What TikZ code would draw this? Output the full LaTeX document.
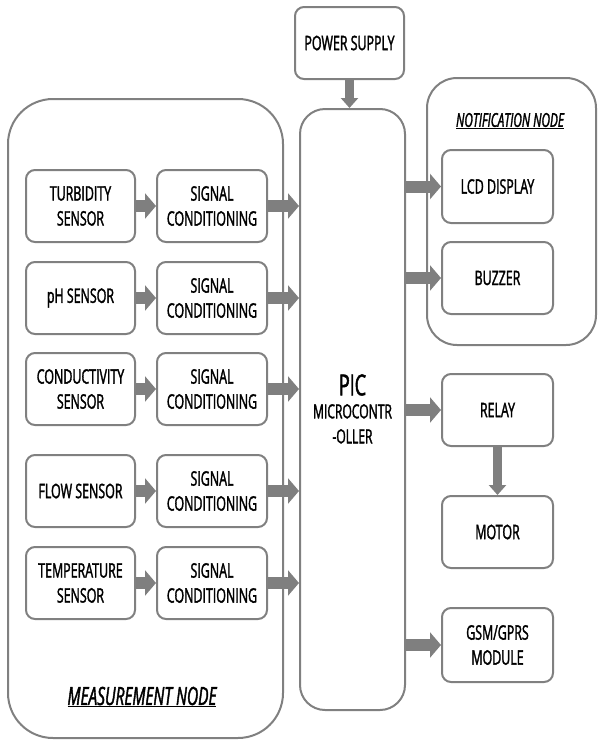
\documentclass[tikz,border=0pt]{standalone}
\usepackage{fontspec}
\setmainfont{Open Sans}[FakeStretch=0.62, FakeBold=1.6]
\usetikzlibrary{arrows.meta}
\definecolor{bordergray}{HTML}{808080}
\definecolor{arrowgray}{HTML}{7F7F7F}
\tikzset{
  blockbox/.style={draw=bordergray, line width=2pt, rounded corners=9pt, fill=white,
    minimum width=109pt, minimum height=72pt, align=center,
    font=\fontsize{20}{25}\selectfont, inner sep=0pt},
  groupbox/.style={draw=bordergray, line width=2pt, inner sep=0pt},
  fatarrow/.style={draw=arrowgray, line width=12pt, -{Triangle[length=11pt,width=25pt]}},
  slimarrow/.style={draw=arrowgray, line width=9pt, -{Triangle[length=10pt,width=17pt]}},
  grouplabel/.style={font=\fontsize{#1}{#1}\selectfont\itshape, inner sep=0pt}
}
\begin{document}
\begin{tikzpicture}[x=1pt,y=-1pt]
\useasboundingbox (0,0) rectangle (598,742);
% group frames
\node[groupbox, rounded corners=45pt, minimum width=275pt, minimum height=639pt] (meas) at (145.5,418.5) {};
\node[groupbox, rounded corners=30pt, minimum width=169pt, minimum height=267pt] (notif) at (511.5,211.5) {};
\node[grouplabel=25] (measlbl) at (142,697) {\underline{MEASUREMENT NODE}};
\node[grouplabel=19] (notiflbl) at (510,121) {\underline{NOTIFICATION NODE}};
% central blocks
\node[blockbox] (power) at (349.5,43) {POWER SUPPLY};
\node[draw=bordergray, line width=2pt, rounded corners=25pt, minimum width=105pt, minimum height=601pt, inner sep=0pt] (pic) at (352.5,409.5) {};
\node[inner sep=0pt, font=\fontsize{29}{29}\selectfont] (pictitle) at (352.5,385) {PIC};
\node[inner sep=0pt, align=center, font=\fontsize{19.5}{25}\selectfont, anchor=north] (pictext) at (352.5,404) {MICROCONTR\\-OLLER};
% sensors
\node[blockbox] (s1) at (80.5,206) {TURBIDITY\\SENSOR};
\node[blockbox] (s2) at (80.5,298) {pH SENSOR};
\node[blockbox] (s3) at (80.5,389) {CONDUCTIVITY\\SENSOR};
\node[blockbox] (s4) at (80.5,491) {FLOW SENSOR};
\node[blockbox] (s5) at (80.5,583) {TEMPERATURE\\SENSOR};
\foreach \i/\y in {1/206,2/298,3/389,4/491,5/583}{
  \node[blockbox, minimum width=110pt] (c\i) at (212,\y) {SIGNAL\\CONDITIONING};
}
% outputs
\node[blockbox, minimum width=111pt, minimum height=73pt] (lcd) at (497.5,186.5) {LCD DISPLAY};
\node[blockbox, minimum width=111pt] (buzz) at (497.5,278) {BUZZER};
\node[blockbox, minimum width=111pt] (relay) at (497.5,410) {RELAY};
\node[blockbox, minimum width=111pt] (motor) at (497.5,532) {MOTOR};
\node[blockbox, minimum width=111pt, minimum height=74pt] (gsm) at (497.5,645) {GSM/GPRS\\MODULE};
% arrows
\foreach \i in {1,...,5}{
  \draw[fatarrow] (s\i.east) -- (c\i.west);
  \draw[fatarrow] (c\i.east) -- (pic.west |- c\i.east);
}
\draw[slimarrow] (power.south) -- (pic.north -| power.south);
\draw[fatarrow] (pic.east |- lcd.west) -- (lcd.west);
\draw[fatarrow] (pic.east |- buzz.west) -- (buzz.west);
\draw[fatarrow] (pic.east |- relay.west) -- (relay.west);
\draw[fatarrow] (pic.east |- gsm.west) -- (gsm.west);
\draw[slimarrow] (relay.south) -- (motor.north);
\end{tikzpicture}
\end{document}
